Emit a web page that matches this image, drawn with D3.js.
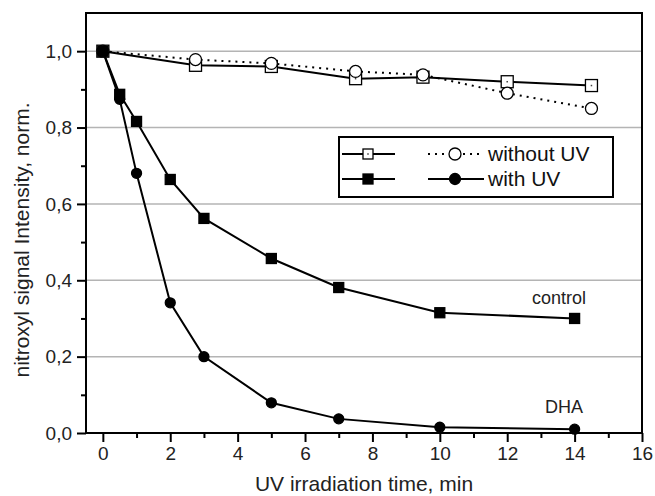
<!DOCTYPE html>
<html>
<head>
<meta charset="utf-8">
<script src="https://cdn.jsdelivr.net/npm/d3@7"></script>
<style>
  body { margin: 0; background: #fff; }
  svg { font-family: "Liberation Sans", Arial, sans-serif; }
</style>
</head>
<body>
<div class="canva"></div>
<script>
var width = 655;
var height = 496;

// data
const timeNoUV = [0, 2.75, 5, 7.5, 9.5, 12, 14.5];
const controlNoUV = [1.0, 0.963, 0.96, 0.928, 0.932, 0.92, 0.91];
const dhaNoUV = [1.0, 0.978, 0.968, 0.947, 0.938, 0.89, 0.85];

const timeUV = [0, 0.5, 1, 2, 3, 5, 7, 10, 14];
const controlUV = [1.0, 0.887, 0.816, 0.664, 0.562, 0.457, 0.381, 0.315, 0.30];
const dhaUV = [1.0, 0.874, 0.68, 0.341, 0.20, 0.079, 0.037, 0.015, 0.01];

const xTicks = [0, 2, 4, 6, 8, 10, 12, 14, 16];
const xMinor = [1, 3, 5, 7, 9, 11, 13, 15];
const yTicks = [0, 0.2, 0.4, 0.6, 0.8, 1.0];
const yMinor = [0.1, 0.3, 0.5, 0.7, 0.9];

const margin = {top: 13, right: 13, bottom: 63, left: 86};

const svg = d3.select('.canva').append('svg')
  .attr('width', width)
  .attr('height', height);

const x = d3.scaleLinear().domain([-0.5, 16]).range([margin.left, width - margin.right]);
const y = d3.scaleLinear().domain([0, 1.1]).range([height - margin.bottom, margin.top]);

// grid
svg.append('g').selectAll('line')
  .data(yTicks.filter(d => d > 0))
  .enter().append('line')
  .attr('x1', x(-0.5)).attr('x2', x(16))
  .attr('y1', d => y(d)).attr('y2', d => y(d))
  .attr('stroke', '#b4b4b4').attr('stroke-width', 1.5);

// axes
const fmt = d => d3.format('.1f')(d).replace('.', ',');

const xAxis = svg.append('g')
  .attr('transform', 'translate(0,' + y(0) + ')')
  .call(d3.axisBottom(x).tickValues(xTicks).tickSize(9).tickPadding(5).tickFormat(d3.format('d')));
const xAxisMinor = svg.append('g')
  .attr('transform', 'translate(0,' + y(0) + ')')
  .call(d3.axisBottom(x).tickValues(xMinor).tickSize(5).tickFormat(''));

const yAxis = svg.append('g')
  .attr('transform', 'translate(' + x(-0.5) + ',0)')
  .call(d3.axisLeft(y).tickValues(yTicks).tickSize(9).tickPadding(5).tickFormat(fmt));
const yAxisMinor = svg.append('g')
  .attr('transform', 'translate(' + x(-0.5) + ',0)')
  .call(d3.axisLeft(y).tickValues(yMinor).tickSize(5).tickFormat(''));

[xAxis, xAxisMinor, yAxis, yAxisMinor].forEach(g => {
  g.select('.domain').remove();
  g.selectAll('.tick line').attr('stroke', '#000').attr('stroke-width', 2);
  g.selectAll('text').attr('font-size', 19).attr('fill', '#222')
    .style('font-family', '"Liberation Sans", Arial, sans-serif');
});

// frame
svg.append('rect')
  .attr('x', x(-0.5)).attr('y', y(1.1))
  .attr('width', x(16) - x(-0.5)).attr('height', y(0) - y(1.1))
  .attr('fill', 'none').attr('stroke', '#000').attr('stroke-width', 2);

// axis titles
svg.append('text')
  .attr('x', (x(-0.5) + x(16)) / 2)
  .attr('y', 491)
  .attr('text-anchor', 'middle')
  .attr('font-size', 21)
  .attr('fill', '#222')
  .text('UV irradiation time, min');

svg.append('text')
  .attr('transform', 'translate(29,240) rotate(-90)')
  .attr('text-anchor', 'middle')
  .attr('font-size', 21)
  .attr('fill', '#222')
  .text('nitroxyl signal Intensity, norm.');

// series
const line = d3.line().x(d => x(d[0])).y(d => y(d[1]));

function pairs(xs, ys) { return xs.map((d, i) => [d, ys[i]]); }

const series = [
  {pts: pairs(timeNoUV, controlNoUV), dash: null, marker: 'square', fill: '#fff'},
  {pts: pairs(timeNoUV, dhaNoUV), dash: '2,5', marker: 'circle', fill: '#fff'},
  {pts: pairs(timeUV, controlUV), dash: null, marker: 'square', fill: '#000'},
  {pts: pairs(timeUV, dhaUV), dash: null, marker: 'circle', fill: '#000'}
];

function drawMarker(g, type, fill, cx, cy, size) {
  if (type === 'square') {
    g.append('rect')
      .attr('x', cx - size / 2).attr('y', cy - size / 2)
      .attr('width', size).attr('height', size)
      .attr('fill', fill).attr('stroke', '#000').attr('stroke-width', 1.3);
    if (fill === '#fff') {
      g.append('rect').attr('x', cx - 0.75).attr('y', cy - 0.75)
        .attr('width', 1.5).attr('height', 1.5).attr('fill', '#444');
    }
  } else {
    g.append('circle')
      .attr('cx', cx).attr('cy', cy).attr('r', size / 2)
      .attr('fill', fill).attr('stroke', '#000').attr('stroke-width', 1.3);
  }
}

series.forEach(s => {
  svg.append('path')
    .datum(s.pts)
    .attr('d', line)
    .attr('fill', 'none')
    .attr('stroke', '#000')
    .attr('stroke-width', 2)
    .attr('stroke-dasharray', s.dash);
});

series.forEach(s => {
  const g = svg.append('g');
  const size = s.fill === '#fff' ? 12 : 10;
  s.pts.forEach(p => drawMarker(g, s.marker, s.fill, x(p[0]), y(p[1]), size));
});

// labels
svg.append('text').attr('x', 559).attr('y', 304).attr('text-anchor', 'middle')
  .attr('font-size', 18).attr('fill', '#222').text('control');
svg.append('text').attr('x', 564).attr('y', 413).attr('text-anchor', 'middle')
  .attr('font-size', 18).attr('fill', '#222').text('DHA');

// legend
const legend = svg.append('g');
legend.append('rect')
  .attr('x', 339).attr('y', 137).attr('width', 274).attr('height', 60)
  .attr('fill', '#fff').attr('stroke', '#000').attr('stroke-width', 2);

const rows = [
  {yy: 154, label: 'without UV', dash: '2,5', fill: '#fff'},
  {yy: 179, label: 'with UV', dash: null, fill: '#000'}
];
rows.forEach(r => {
  legend.append('line').attr('x1', 342).attr('x2', 395).attr('y1', r.yy).attr('y2', r.yy)
    .attr('stroke', '#000').attr('stroke-width', 2);
  drawMarker(legend, 'square', r.fill, 368, r.yy, 10);
  legend.append('line').attr('x1', 428).attr('x2', 484).attr('y1', r.yy).attr('y2', r.yy)
    .attr('stroke', '#000').attr('stroke-width', 2).attr('stroke-dasharray', r.dash);
  drawMarker(legend, 'circle', r.fill, 455, r.yy, r.fill === '#fff' ? 12 : 11);
  legend.append('text').attr('x', 488).attr('y', r.yy + 7)
    .attr('font-size', 21).attr('fill', '#111').text(r.label);
});
</script>
</body>
</html>
